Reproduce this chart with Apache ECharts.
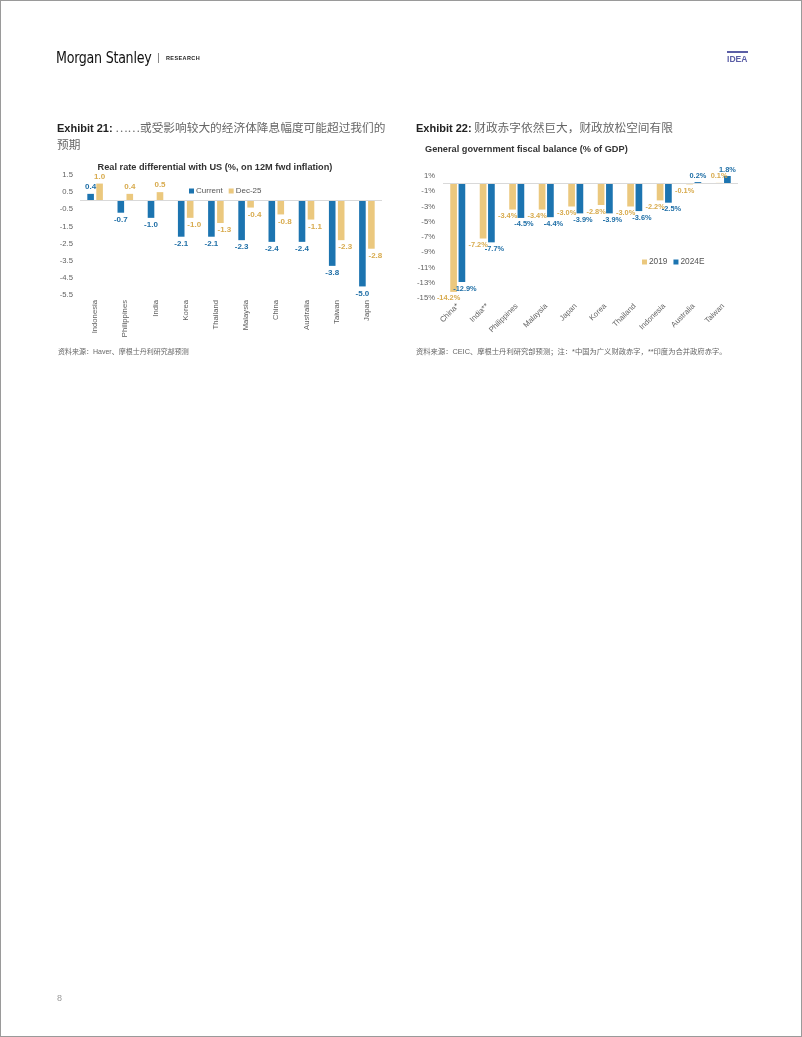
<!DOCTYPE html>
<html>
<head>
<meta charset="utf-8">
<script src="https://cdn.jsdelivr.net/npm/echarts@6/dist/echarts.min.js"></script>
<style>
html,body{margin:0;padding:0;background:#fff;}
#page{position:relative;width:802px;height:1037px;box-sizing:border-box;border:1px solid #9a9a9a;overflow:hidden;font-family:"Liberation Sans",Arial,"Noto Sans CJK SC",sans-serif;}
#chart{position:absolute;left:0;top:0;width:802px;height:1037px;}
.t{position:absolute;white-space:nowrap;}
.fn{font-family:"Liberation Sans",Arial,"Noto Sans CJK SC",sans-serif;color:#666;}
</style>
</head>
<body>
<div id="page">
  <div id="chart"></div>
  <div class="t" style="left:55px;top:47px;font-family:'Liberation Sans Narrow','DejaVu Sans Condensed',sans-serif;font-size:16px;color:#111;transform:scaleX(0.88);transform-origin:left top;letter-spacing:-0.3px;">Morgan Stanley</div>
  <div class="t" style="left:156px;top:50px;font-size:11px;color:#777;">|</div>
  <div class="t" style="left:165px;top:54px;font-size:5.5px;font-weight:bold;color:#222;letter-spacing:0.4px;">RESEARCH</div>
  <div class="t" style="left:726px;top:50px;width:21px;border-top:2px solid #5b5ea6;"></div>
  <div class="t" style="left:726px;top:52px;font-size:9.5px;font-weight:bold;color:#5b5ea6;transform:scaleX(0.9);transform-origin:left top;">IDEA</div>

  <div class="t" style="left:56px;top:118px;font-size:11.7px;line-height:16px;color:#666;font-family:'Noto Sans CJK SC',sans-serif;"><span style="font-family:'Liberation Sans',Arial,sans-serif;font-weight:bold;color:#222;font-size:11px;">Exhibit 21:</span> ……或受影响较大的经济体降息幅度可能超过我们的<br>预期</div>
  <div class="t" style="left:415px;top:118px;font-size:11.7px;line-height:16px;color:#666;font-family:'Noto Sans CJK SC',sans-serif;"><span style="font-family:'Liberation Sans',Arial,sans-serif;font-weight:bold;color:#222;font-size:11px;">Exhibit 22:</span> 财政赤字依然巨大，财政放松空间有限</div>

  <div class="t fn" style="left:57px;top:345px;font-size:7px;">资料来源：Haver、摩根士丹利研究部预测</div>
  <div class="t fn" style="left:415px;top:345px;font-size:7.3px;">资料来源：CEIC、摩根士丹利研究部预测；注：*中国为广义财政赤字，**印度为合并政府赤字。</div>
  <div class="t" style="left:56px;top:992px;font-size:9px;color:#999;">8</div>
</div>
<script>
// ---- Exhibit 21 data ----
var rateCategories = ['Indonesia','Philippines','India','Korea','Thailand','Malaysia','China','Australia','Taiwan','Japan'];
var rateCurrent = [0.4, -0.7, -1.0, -2.1, -2.1, -2.3, -2.4, -2.4, -3.8, -5.0];
var rateDec25   = [1.0, 0.4, 0.5, -1.0, -1.3, -0.4, -0.8, -1.1, -2.3, -2.8];
var rateTicks = {min: -5.5, max: 1.5, interval: 1};

// ---- Exhibit 22 data ----
var fiscalCategories = ['China*','India**','Philippines','Malaysia','Japan','Korea','Thailand','Indonesia','Australia','Taiwan'];
var fiscal2019  = [-14.2, -7.2, -3.4, -3.4, -3.0, -2.8, -3.0, -2.2, -0.1, 0.1];
var fiscal2024E = [-12.9, -7.7, -4.5, -4.4, -3.9, -3.9, -3.6, -2.5, 0.2, 1.8];
var fiscalTicks = {min: -15, max: 1, interval: 2};

var BLUE = '#1c74b0', GOLD = '#ebc87e';
var BLUE_T = '#1e6ea6', GOLD_T = '#d8ab4e';
var AX = '#5f5f5f';
var FF = '"Liberation Sans", Arial, sans-serif';

function items(arr, dec, suffix, color, dx) {
  return arr.map(function (v) {
    return {
      value: v,
      label: {
        show: true,
        position: v >= 0 ? 'top' : 'bottom',
        distance: 3,
        offset: [v >= 0 ? 0 : dx, 0],
        formatter: v.toFixed(dec) + suffix,
        color: color
      }
    };
  });
}

var zeroLine = {
  silent: true, symbol: 'none', label: {show: false},
  lineStyle: {color: '#d9d9d9', width: 1, type: 'solid'},
  data: [{yAxis: 0}]
};

var chart = echarts.init(document.getElementById('chart'), null, {renderer: 'canvas'});
chart.setOption({
  animation: false,
  textStyle: {fontFamily: FF},
  graphic: [
    {type: 'text', x: 214, y: 166, style: {text: 'Real rate differential with US (%, on 12M fwd inflation)', fontSize: 9.2, fontWeight: 'bold', fill: '#333', fontFamily: FF, align: 'center', verticalAlign: 'middle'}},
    {type: 'text', x: 424, y: 148, style: {text: 'General government fiscal balance (% of GDP)', fontSize: 9.2, fontWeight: 'bold', fill: '#333', fontFamily: FF, align: 'left', verticalAlign: 'middle'}}
  ],
  legend: [
    {data: ['Current', 'Dec-25'], left: 183, top: 181, icon: 'rect', itemWidth: 5, itemHeight: 5, itemGap: 6,
     textStyle: {fontSize: 8, color: '#555', padding: [0, 0, 0, -3]}},
    {data: ['2019', '2024E'], left: 636, top: 252, icon: 'rect', itemWidth: 5, itemHeight: 5, itemGap: 6,
     textStyle: {fontSize: 8.3, color: '#555', padding: [0, 0, 0, -3]}}
  ],
  grid: [
    {left: 79, top: 174, width: 302, height: 120},
    {left: 442, top: 175, width: 295, height: 122}
  ],
  xAxis: [
    {type: 'category', gridIndex: 0, data: rateCategories, position: 'bottom',
     axisLine: {show: false}, axisTick: {show: false},
     axisLabel: {rotate: 90, interval: 0, margin: 5, fontSize: 7.7, color: AX}},
    {type: 'category', gridIndex: 1, data: fiscalCategories, position: 'bottom',
     axisLine: {show: false}, axisTick: {show: false},
     axisLabel: {rotate: 45, interval: 0, margin: 7, fontSize: 7.7, color: AX}}
  ],
  yAxis: [
    {type: 'value', gridIndex: 0, min: rateTicks.min, max: rateTicks.max, interval: rateTicks.interval,
     splitLine: {show: false}, axisLine: {show: false}, axisTick: {show: false},
     axisLabel: {fontSize: 7.7, color: AX, margin: 7, formatter: function (v) { return v.toFixed(1); }}},
    {type: 'value', gridIndex: 1, min: fiscalTicks.min, max: fiscalTicks.max, interval: fiscalTicks.interval,
     splitLine: {show: false}, axisLine: {show: false}, axisTick: {show: false},
     axisLabel: {fontSize: 7.7, color: AX, margin: 8, formatter: function (v) { return Math.round(v) + '%'; }}}
  ],
  series: [
    {name: 'Current', type: 'bar', xAxisIndex: 0, yAxisIndex: 0, data: items(rateCurrent, 1, '', BLUE_T, 0),
     barWidth: 6.6, barGap: '36%', itemStyle: {color: BLUE},
     label: {fontSize: 8, fontWeight: 'bold'}, markLine: zeroLine},
    {name: 'Dec-25', type: 'bar', xAxisIndex: 0, yAxisIndex: 0, data: items(rateDec25, 1, '', GOLD_T, 4),
     barWidth: 6.6, barGap: '36%', itemStyle: {color: GOLD},
     label: {fontSize: 8, fontWeight: 'bold'}},
    {name: '2019', type: 'bar', xAxisIndex: 1, yAxisIndex: 1, data: items(fiscal2019, 1, '%', GOLD_T, -5),
     barWidth: 6.7, barGap: '24%', itemStyle: {color: GOLD},
     label: {fontSize: 7.4, fontWeight: 'bold'}, markLine: zeroLine},
    {name: '2024E', type: 'bar', xAxisIndex: 1, yAxisIndex: 1, data: items(fiscal2024E, 1, '%', BLUE_T, 3),
     barWidth: 6.7, barGap: '24%', itemStyle: {color: BLUE},
     label: {fontSize: 7.4, fontWeight: 'bold'}}
  ]
});
</script>
</body>
</html>
